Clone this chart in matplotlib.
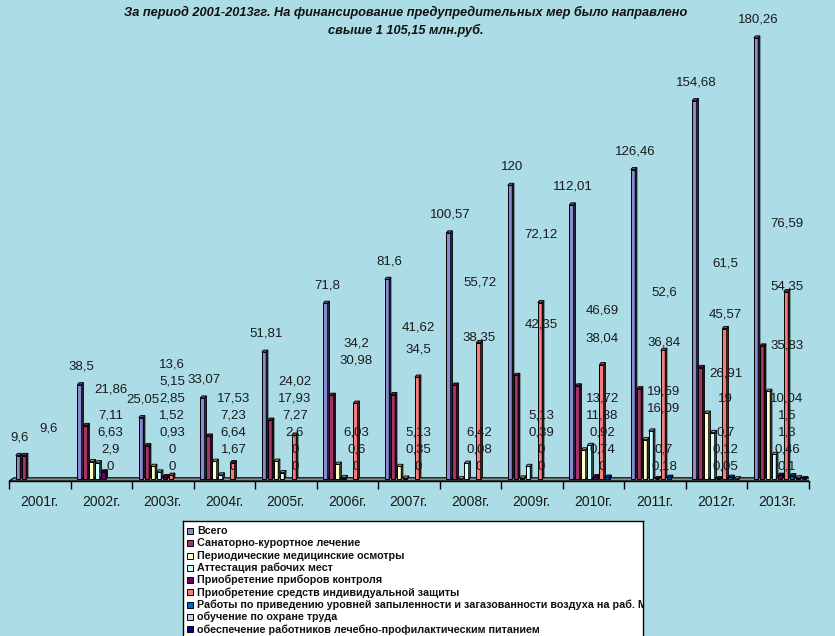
import numpy as np
import matplotlib.pyplot as plt
from matplotlib.patches import Polygon, Rectangle

nan = np.nan

years = ['2001г.', '2002г.', '2003г.', '2004г.', '2005г.', '2006г.', '2007г.',
         '2008г.', '2009г.', '2010г.', '2011г.', '2012г.', '2013г.']

series_names = [
    'Всего',
    'Санаторно-курортное лечение',
    'Периодические медицинские осмотры',
    'Аттестация рабочих мест',
    'Приобретение приборов контроля',
    'Приобретение средств индивидуальной защиты',
    'Работы по приведению уровней запыленности и загазованности воздуха на раб. Местах',
    'обучение по охране труда',
    'обеспечение работников лечебно-профилактическим питанием',
]

vsego = [9.6, 38.5, 25.05, 33.07, 51.81, 71.8, 81.6, 100.57, 120, 112.01, 126.46, 154.68, 180.26]
sanatorno = [9.6, 21.86, 13.6, 17.53, 24.02, 34.2, 34.5, 38.35, 42.35, 38.04, 36.84, 45.57, 54.35]
medosmotry = [nan, 7.11, 5.15, 7.23, 7.27, 6.03, 5.13, 0.08, 0.39, 11.88, 16.09, 26.91, 35.83]
attestacia = [nan, 6.63, 2.85, 1.67, 2.6, 0.6, 0.35, 6.42, 5.13, 13.72, 19.59, 19, 10.04]
pribory = [nan, 2.9, 0.93, 0, 0, 0, 0, 0, 0, 0.92, 0.18, 0.12, 1.5]
siz = [nan, 0, 1.52, 6.64, 17.93, 30.98, 41.62, 55.72, 72.12, 46.69, 52.6, 61.5, 76.59]
raboty = [nan, nan, 0, nan, 0, nan, nan, nan, 0, 0.74, 0.7, 0.7, 1.3]
obuchenie = [nan, nan, 0, nan, nan, nan, nan, nan, nan, 0, nan, 0.05, 0.46]
pitanie = [nan, nan, nan, nan, nan, nan, nan, nan, nan, nan, nan, nan, 0.1]

data = [vsego, sanatorno, medosmotry, attestacia, pribory, siz, raboty, obuchenie, pitanie]
colors = ['#8a8ad2', '#a33468', '#ffffcc', '#ccffff', '#660066', '#f47c7c', '#0066cc', '#ccccff', '#000080']

bg = '#acdde6'
font = ['Liberation Sans', 'DejaVu Sans']
txt_col = '#1a1a1a'

fig = plt.figure(figsize=(8.35, 6.36), dpi=100, facecolor=bg)
ax = fig.add_axes([9 / 835, 1 - 481 / 636, 799.5 / 835, 479 / 636])
ax.set_facecolor(bg)
ax.set_xlim(0, 13)
ax.set_ylim(-0.82, 195)

# 3d floor
ax.add_patch(Polygon([(0, -0.82), (13, -0.82), (13.08, 0.5), (0.08, 0.5)],
                     closed=True, facecolor='#8c8c8c', edgecolor='black', lw=0.8, zorder=1))

w = 0.072     # front face
d = 0.028     # depth (x)
dy = 0.9      # depth (y)
step = 0.0976


def darker(c, k):
    r, g, b = plt.matplotlib.colors.to_rgb(c)
    return (r * k, g * k, b * k)


for i, vals in enumerate(data):
    vals = np.array(vals, dtype=float)
    x = np.arange(13) + 0.11 + i * step
    ok = ~np.isnan(vals) & (vals > 0)
    ax.bar(x[ok], vals[ok], width=w, align='edge', color=colors[i],
           edgecolor='black', lw=0.7, zorder=3)
    for xx, v in zip(x[ok], vals[ok]):
        side = [(xx + w, 0), (xx + w + d, dy), (xx + w + d, v + dy), (xx + w, v)]
        top = [(xx, v), (xx + d, v + dy), (xx + w + d, v + dy), (xx + w, v)]
        ax.add_patch(Polygon(side, closed=True, facecolor=darker(colors[i], 0.3),
                             edgecolor='black', lw=0.6, zorder=3))
        ax.add_patch(Polygon(top, closed=True, facecolor=darker(colors[i], 0.6),
                             edgecolor='black', lw=0.6, zorder=3))


def fmt(v):
    return f'{v:g}'.replace('.', ',')


# data labels
for g in range(13):
    tv = vsego[g]
    ax.text(g + 0.11 + w / 2 + 0.03, tv + 7.5, fmt(tv), ha='center', va='center',
            fontsize=9.5, family=font, color=txt_col, zorder=5)
    vals = sorted(s[g] for s in data[1:] if not np.isnan(s[g]))
    prev = None
    for v in vals:
        t = v + min(8 + 0.3 * v, 28) if v >= 3 else 5
        y = t if prev is None else max(t, prev + 7)
        y = max(y, 5)
        prev = y
        ax.text(g + 0.65, y, fmt(v), ha='center', va='center', fontsize=9.5,
                family=font, color=txt_col, zorder=5)

for s in ['top', 'right', 'left']:
    ax.spines[s].set_visible(False)
ax.spines['bottom'].set_color('black')
ax.spines['bottom'].set_linewidth(1.0)
ax.set_yticks([])
ax.set_xticks(np.arange(14))
ax.set_xticklabels([])
ax.tick_params(axis='x', which='major', length=6, width=1.0, color='black', direction='out')
ax.set_xticks(np.arange(13) + 0.5, minor=True)
ax.set_xticklabels(years, minor=True, fontsize=10, family=font, color=txt_col)
ax.tick_params(axis='x', which='minor', length=0, pad=10)

fig.text(406 / 835, 1 - 12 / 636,
         'За период 2001-2013гг. На финансирование предупредительных мер было направлено',
         ha='center', va='center', fontsize=9.2, fontweight='bold', fontstyle='italic',
         family=font, color='#111111')
fig.text(406 / 835, 1 - 30 / 636, 'свыше 1 105,15 млн.руб.',
         ha='center', va='center', fontsize=9.2, fontweight='bold', fontstyle='italic',
         family=font, color='#111111')

# legend box (clipped like the original)
lax = fig.add_axes([183 / 835, -0.05, 460 / 835, 1 - 521 / 636 + 0.05])
lax.set_xlim(183, 643)
lax.set_ylim(636 + 0.05 * 636, 521)
lax.set_facecolor('white')
lax.set_xticks([])
lax.set_yticks([])
for s in lax.spines.values():
    s.set_color('black')
    s.set_linewidth(1.0)
for k, name in enumerate(series_names):
    yy = 531 + 12.3 * k
    lax.add_patch(Rectangle((187, yy - 3), 6, 6, facecolor=colors[k], edgecolor='black', lw=0.7))
    lax.text(197, yy, name, ha='left', va='center', fontsize=7.75, fontweight='bold',
             family=font, color='#111111', clip_on=True)

fig.savefig('out.png', dpi=100, facecolor=bg)
